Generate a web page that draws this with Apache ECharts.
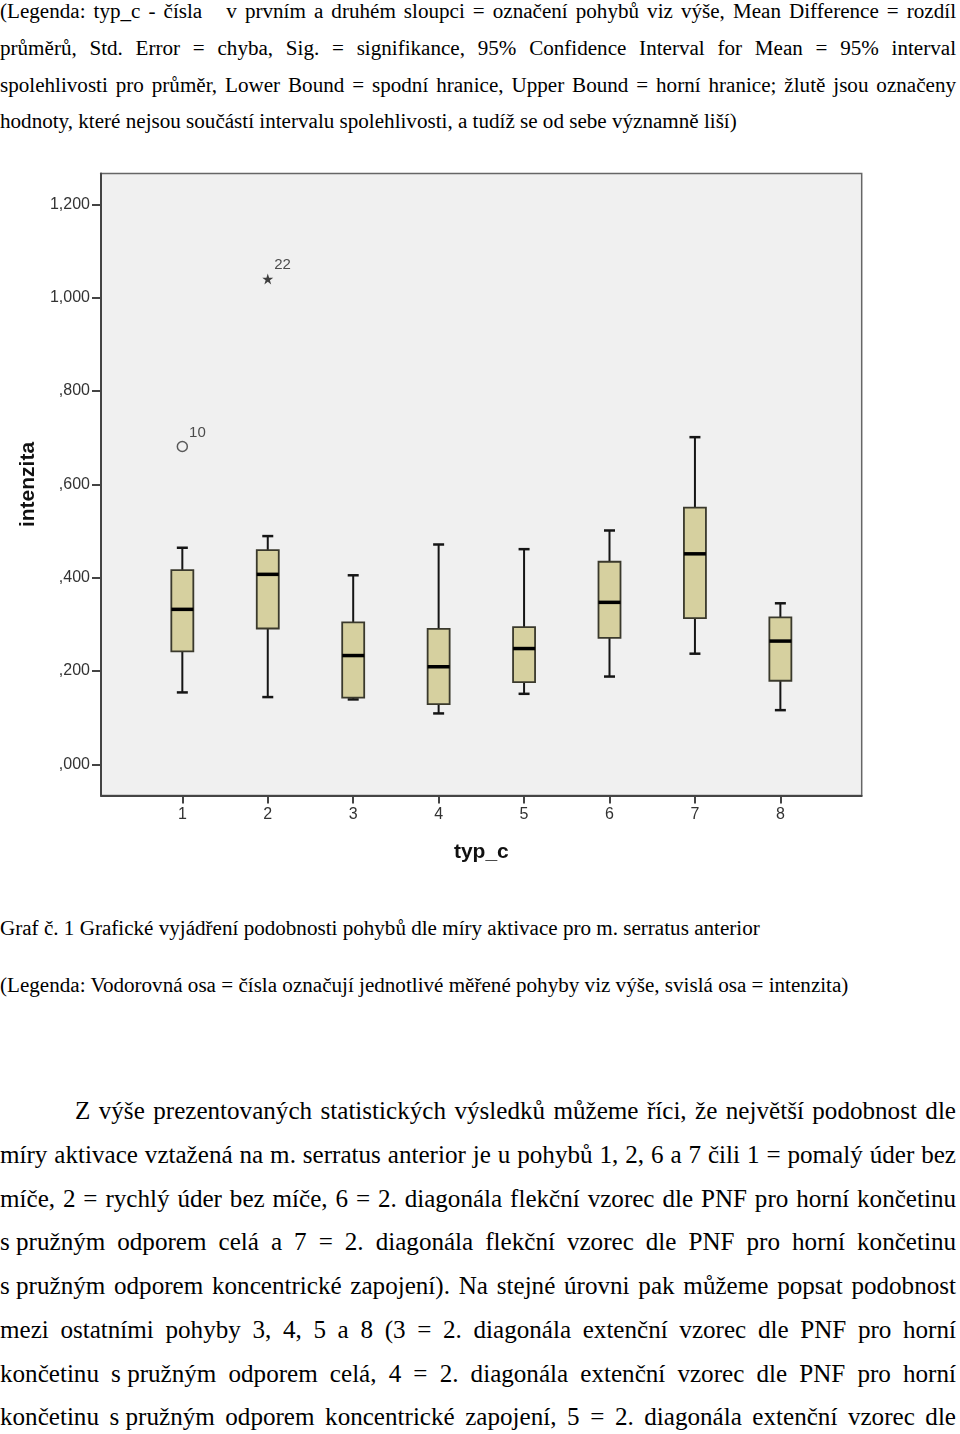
<!DOCTYPE html>
<html lang="cs">
<head>
<meta charset="utf-8">
<script src="https://cdn.jsdelivr.net/npm/echarts@6/dist/echarts.min.js"></script>
<style>
  html, body { margin: 0; padding: 0; background: #ffffff; }
  body { width: 960px; height: 1434px; position: relative; overflow: hidden; }
  .ln { position: absolute; left: 0; width: 956px; white-space: nowrap; color: #000;
        font-family: "Liberation Serif", "Times New Roman", serif; }
  .small { font-size: 21.1px; line-height: 21.1px; }
  .big { font-size: 25.1px; line-height: 25.1px; }
  .just { text-align: justify; text-align-last: justify; }
  .nb { display: inline-block; }
  #chart { position: absolute; left: 0; top: 150px; width: 960px; height: 740px; }
</style>
</head>
<body>
<div class="ln small just" style="top:1.3px">(Legenda: typ_c - čísla &nbsp; v prvním a druhém sloupci = označení pohybů viz výše, Mean Difference = rozdíl</div>
<div class="ln small just" style="top:38px">průměrů, Std. Error = chyba, Sig. = signifikance, 95% Confidence Interval for Mean = 95% interval</div>
<div class="ln small just" style="top:74.7px">spolehlivosti pro průměr, Lower Bound = spodní hranice, Upper Bound = horní hranice; žlutě jsou označeny</div>
<div class="ln small" style="top:111.4px">hodnoty, které nejsou součástí intervalu spolehlivosti, a tudíž se od sebe významně liší)</div>

<div id="chart"></div>

<div class="ln small" style="top:917.5px">Graf č. 1 Grafické vyjádření podobnosti pohybů dle míry aktivace pro m. serratus anterior</div>
<div class="ln small" style="top:975.3px">(Legenda: Vodorovná osa = čísla označují jednotlivé měřené pohyby viz výše, svislá osa = intenzita)</div>

<div class="ln big just" style="top:1098.3px; left:75px; width:881px">Z výše prezentovaných statistických výsledků můžeme říci, že největší podobnost dle</div>
<div class="ln big just" style="top:1142px">míry aktivace vztažená na m. serratus anterior je u pohybů 1, 2, 6 a 7 čili 1 = pomalý úder bez</div>
<div class="ln big just" style="top:1185.7px">míče, 2 = rychlý úder bez míče, 6 = 2. diagonála flekční vzorec dle PNF pro horní končetinu</div>
<div class="ln big just" style="top:1229.4px"><span class="nb">s pružným</span> odporem celá a 7 = 2. diagonála flekční vzorec dle PNF pro horní končetinu</div>
<div class="ln big just" style="top:1273.1px"><span class="nb">s pružným</span> odporem koncentrické zapojení). Na stejné úrovni pak můžeme popsat podobnost</div>
<div class="ln big just" style="top:1316.8px">mezi ostatními pohyby 3, 4, 5 a 8 (3 = 2. diagonála extenční vzorec dle PNF pro horní</div>
<div class="ln big just" style="top:1360.5px">končetinu <span class="nb">s pružným</span> odporem celá, 4 = 2. diagonála extenční vzorec dle PNF pro horní</div>
<div class="ln big just" style="top:1404.2px">končetinu <span class="nb">s pružným</span> odporem koncentrické zapojení, 5 = 2. diagonála extenční vzorec dle</div>

<script>
// ---- data ----
const categories = [1, 2, 3, 4, 5, 6, 7, 8];
const whiskerLow  = [0.154, 0.144, 0.139, 0.109, 0.151, 0.188, 0.237, 0.116];
const quartile1   = [0.242, 0.291, 0.143, 0.129, 0.176, 0.271, 0.313, 0.179];
const medians     = [0.332, 0.407, 0.233, 0.209, 0.248, 0.347, 0.451, 0.264];
const quartile3   = [0.416, 0.459, 0.304, 0.290, 0.294, 0.434, 0.550, 0.315];
const whiskerHigh = [0.464, 0.489, 0.405, 0.471, 0.461, 0.501, 0.701, 0.345];

const outlierCategory = [1, 2];
const outlierValues   = [0.681, 1.040];
const outlierCases    = ['10', '22'];
const outlierKinds    = ['circle', 'star'];

const yTickValues = [0, 0.2, 0.4, 0.6, 0.8, 1.0, 1.2];
const yTickLabels = [',000', ',200', ',400', ',600', ',800', '1,000', '1,200'];

const xAxisTitle = 'typ_c';
const yAxisTitle = 'intenzita';

// ---- build options ----
const boxData = categories.map((c, i) => [c, whiskerLow[i], quartile1[i], medians[i], quartile3[i], whiskerHigh[i]]);
const starPath = 'path://M50,0 L61.8,35.4 L99,35.4 L69,57.3 L80.4,92.7 L50,70.8 L19.6,92.7 L31,57.3 L1,35.4 L38.2,35.4 Z';
const outlierData = outlierCategory.map((c, i) => ({
  value: [c, outlierValues[i]],
  name: outlierCases[i],
  symbol: outlierKinds[i] === 'star' ? starPath : 'circle',
  symbolSize: outlierKinds[i] === 'star' ? 11 : 10,
  itemStyle: outlierKinds[i] === 'star'
    ? { color: '#111', borderWidth: 0 }
    : { color: 'rgba(0,0,0,0)', borderColor: '#333', borderWidth: 1.5 }
}));

const sans = '"Liberation Sans", Arial, sans-serif';
const chart = echarts.init(document.getElementById('chart'), null, { renderer: 'canvas' });

chart.setOption({
  animation: false,
  grid: {
    left: 101, right: 98.3, top: 23.5, bottom: 94.5,
    show: true, backgroundColor: '#f0f0f0', borderColor: '#666666', borderWidth: 1.5
  },
  xAxis: {
    type: 'value', min: 0.048, max: 8.952,
    name: xAxisTitle, nameLocation: 'middle', nameGap: 46,
    nameTextStyle: { fontFamily: sans, fontWeight: 'bold', fontSize: 21, color: '#111' },
    splitLine: { show: false },
    axisLine: { show: true, onZero: false, lineStyle: { color: '#444', width: 2 } },
    axisTick: { show: true, customValues: categories, length: 8, lineStyle: { color: '#444', width: 2 } },
    axisLabel: { customValues: categories, margin: 11, fontFamily: sans, fontSize: 16, color: '#333' }
  },
  yAxis: {
    type: 'value', min: -0.0669, max: 1.266,
    name: yAxisTitle, nameLocation: 'middle', nameGap: 56, nameRotate: 90,
    nameTextStyle: { fontFamily: sans, fontWeight: 'bold', fontSize: 21, color: '#111' },
    splitLine: { show: false },
    axisLine: { show: true, onZero: false, lineStyle: { color: '#444', width: 2 } },
    axisTick: { show: true, customValues: yTickValues, length: 9, lineStyle: { color: '#444', width: 2 } },
    axisLabel: {
      customValues: yTickValues, margin: 11, fontFamily: sans, fontSize: 16, color: '#333',
      formatter: function (v) {
        for (let i = 0; i < yTickValues.length; i++) {
          if (Math.abs(yTickValues[i] - v) < 1e-6) return yTickLabels[i];
        }
        return '';
      }
    }
  },
  series: [
    {
      type: 'custom',
      data: boxData,
      encode: { x: 0, y: [1, 2, 3, 4, 5] },
      renderItem: function (params, api) {
        const x = api.value(0);
        const pMin = api.coord([x, api.value(1)]);
        const pQ1 = api.coord([x, api.value(2)]);
        const pMed = api.coord([x, api.value(3)]);
        const pQ3 = api.coord([x, api.value(4)]);
        const pMax = api.coord([x, api.value(5)]);
        const cx = pMin[0];
        const bw = 22, cw = 11;
        const ws = { stroke: '#151515', lineWidth: 2 };
        const cs = { stroke: '#151515', lineWidth: 2.5 };
        return {
          type: 'group',
          children: [
            { type: 'line', shape: { x1: cx, y1: pMax[1], x2: cx, y2: pQ3[1] }, style: ws },
            { type: 'line', shape: { x1: cx, y1: pQ1[1], x2: cx, y2: pMin[1] }, style: ws },
            { type: 'line', shape: { x1: cx - cw / 2, y1: pMax[1], x2: cx + cw / 2, y2: pMax[1] }, style: cs },
            { type: 'line', shape: { x1: cx - cw / 2, y1: pMin[1], x2: cx + cw / 2, y2: pMin[1] }, style: cs },
            { type: 'rect', shape: { x: cx - bw / 2, y: pQ3[1], width: bw, height: pQ1[1] - pQ3[1] },
              style: { fill: '#d6d09f', stroke: '#3a392c', lineWidth: 1.8 } },
            { type: 'line', shape: { x1: cx - bw / 2, y1: pMed[1], x2: cx + bw / 2, y2: pMed[1] },
              style: { stroke: '#000', lineWidth: 3.5 } }
          ]
        };
      }
    },
    {
      type: 'scatter',
      data: outlierData,
      label: {
        show: true, position: 'right', distance: 1, offset: [0, -14],
        formatter: '{b}', fontFamily: sans, fontSize: 15, color: '#222'
      }
    }
  ]
});
</script>
</body>
</html>
